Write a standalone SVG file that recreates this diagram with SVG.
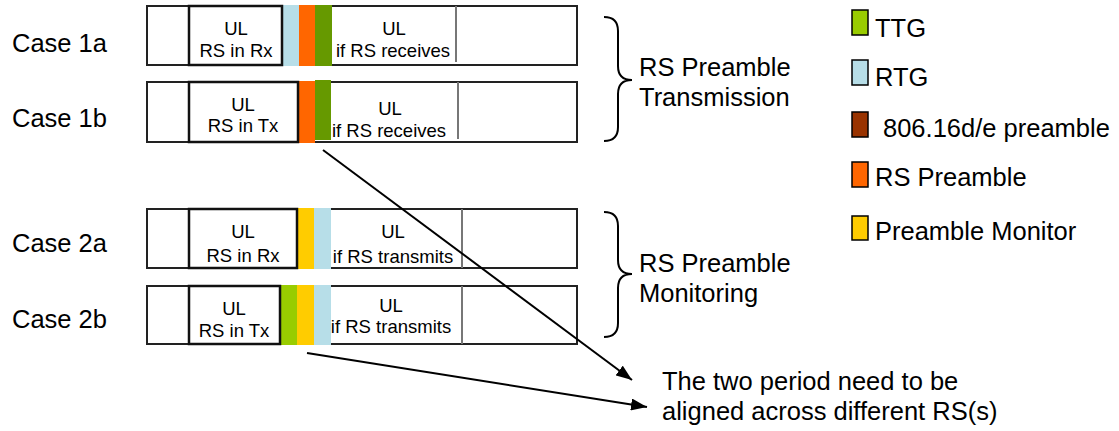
<svg xmlns="http://www.w3.org/2000/svg" width="1119" height="431" viewBox="0 0 1119 431">
<defs>
<style>
text{font-family:"Liberation Sans",Arial,sans-serif;fill:#000}
.big{font-size:25.5px}
.sm{font-size:18.5px;text-anchor:middle}
.outer{fill:#fff;stroke:#222;stroke-width:2}
.inner{fill:none;stroke:#111;stroke-width:2.5}
.div{stroke:#777;stroke-width:2}
.brace{fill:none;stroke:#000;stroke-width:2}
.conn{stroke:#000;stroke-width:2;fill:none}
.leg{stroke:#000;stroke-width:1.5}
.ttg{fill:#99CC00}.rtg{fill:#B7DEE8}.std{fill:#993300}.rsp{fill:#FF6600}.pm{fill:#FFCC00}.dg{fill:#669900}
</style>
<marker id="ah" viewBox="0 0 16 12" refX="16" refY="6" markerWidth="16" markerHeight="12" markerUnits="userSpaceOnUse" orient="auto">
<path d="M0,0 L16,6 L0,12 Z" fill="#000"/>
</marker>
</defs>
<g id="labels">
<text class="big" x="12" y="52">Case 1a</text>
<text class="big" x="12" y="127">Case 1b</text>
<text class="big" x="12" y="252">Case 2a</text>
<text class="big" x="12" y="328">Case 2b</text>
</g>
<g id="case1a">
<rect class="outer" x="147" y="6" width="430" height="59"/>
<rect class="rtg" x="282" y="5" width="17" height="61"/>
<rect class="rsp" x="299" y="5" width="16" height="61"/>
<rect class="dg" x="315" y="5" width="17" height="61"/>
<rect class="inner" x="189" y="6" width="93" height="59"/>
<line class="div" x1="456" y1="6" x2="456" y2="62"/>
<text class="sm" x="236" y="35">UL</text>
<text class="sm" x="236" y="57">RS in Rx</text>
<text class="sm" x="394" y="35">UL</text>
<text class="sm" x="393" y="57">if RS receives</text>
</g>
<g id="case1b">
<rect class="outer" x="147" y="82" width="430" height="60"/>
<rect class="rsp" x="299" y="81" width="16" height="62"/>
<rect class="dg" x="315" y="80" width="16" height="60"/>
<rect class="inner" x="189" y="82" width="109" height="60"/>
<line class="div" x1="458" y1="82" x2="458" y2="139"/>
<text class="sm" x="243" y="111">UL</text>
<text class="sm" x="243" y="132">RS in Tx</text>
<text class="sm" x="390" y="115">UL</text>
<text class="sm" x="389" y="137">if RS receives</text>
</g>
<g id="case2a">
<rect class="outer" x="147" y="209" width="430" height="59"/>
<rect class="pm" x="297" y="208" width="17" height="61"/>
<rect class="rtg" x="314" y="208" width="17" height="61"/>
<rect class="inner" x="189" y="209" width="108" height="59"/>
<line class="div" x1="462" y1="209" x2="462" y2="268"/>
<text class="sm" x="243" y="238">UL</text>
<text class="sm" x="243" y="262">RS in Rx</text>
<text class="sm" x="393" y="238">UL</text>
<text class="sm" x="393" y="263">if RS transmits</text>
</g>
<g id="case2b">
<rect class="outer" x="147" y="286" width="430" height="58"/>
<rect class="ttg" x="280" y="285" width="17" height="60"/>
<rect class="pm" x="297" y="285" width="17" height="60"/>
<rect class="rtg" x="314" y="285" width="17" height="60"/>
<rect class="inner" x="189" y="286" width="91" height="58"/>
<line class="div" x1="462" y1="286" x2="462" y2="344"/>
<text class="sm" x="234" y="315">UL</text>
<text class="sm" x="234" y="337">RS in Tx</text>
<text class="sm" x="391" y="312">UL</text>
<text class="sm" x="391" y="333">if RS transmits</text>
</g>
<g id="group-transmission">
<path class="brace" d="M604,17 Q618,17 618,31 L618,66 Q618,80 632,80 Q618,80 618,94 L618,127 Q618,141 604,141"/>
<text class="big" x="639" y="76">RS Preamble</text>
<text class="big" x="639" y="106">Transmission</text>
</g>
<g id="group-monitoring">
<path class="brace" d="M604,212 Q618,212 618,226 L618,260 Q618,274 632,274 Q618,274 618,288 L618,323 Q618,337 604,337"/>
<text class="big" x="639" y="272">RS Preamble</text>
<text class="big" x="639" y="302">Monitoring</text>
</g>
<g id="legend">
<rect class="leg ttg" x="852" y="10" width="16" height="25"/>
<text class="big" x="875" y="37">TTG</text>
<rect class="leg rtg" x="852" y="60" width="16" height="25"/>
<text class="big" x="875" y="86">RTG</text>
<rect class="leg std" x="852" y="112" width="16" height="25"/>
<text class="big" x="883" y="137">806.16d/e preamble</text>
<rect class="leg rsp" x="852" y="162" width="16" height="25"/>
<text class="big" x="875" y="186">RS Preamble</text>
<rect class="leg pm" x="852" y="216" width="16" height="24"/>
<text class="big" x="875" y="240">Preamble Monitor</text>
</g>
<g id="note">
<text class="big" x="662" y="390">The two period need to be</text>
<text class="big" x="662" y="420">aligned across different RS(s)</text>
</g>
<g id="connectors">
<line class="conn" x1="323" y1="150" x2="632" y2="380" marker-end="url(#ah)"/>
<line class="conn" x1="307" y1="353" x2="647" y2="407" marker-end="url(#ah)"/>
</g>
</svg>
